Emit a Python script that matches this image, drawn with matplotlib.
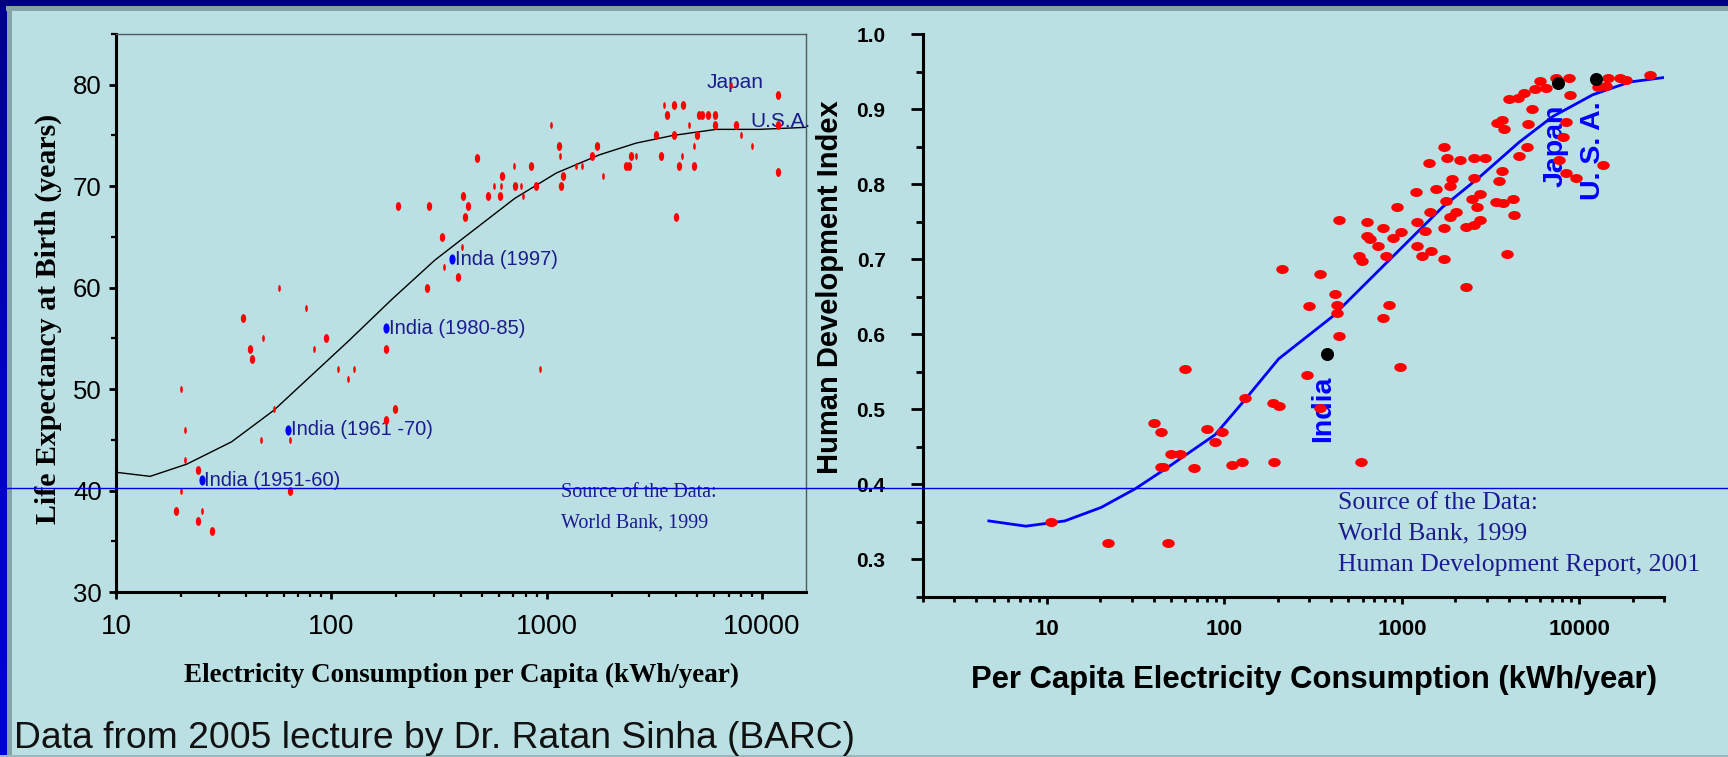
import matplotlib
matplotlib.use("Agg")
import numpy as np
import matplotlib.pyplot as plt
from matplotlib.markers import MarkerStyle
from matplotlib.transforms import Affine2D
from matplotlib.lines import Line2D
from matplotlib.patches import Rectangle
from matplotlib.ticker import MultipleLocator, LogLocator, NullFormatter

# ---------------- data: life expectancy vs electricity (left panel) ----------------
life_x_big = [204, 285, 328, 388, 278, 39, 42, 43, 94, 24, 19, 24, 28, 64, 180, 180, 198,
              473, 409, 430, 419, 533, 605, 618, 713, 846, 892, 1135, 1190, 1161, 1627, 1709,
              2339, 2408, 2460, 3226, 3380, 3634, 3901, 3901, 4103, 4003, 4315, 4845, 4966,
              5076, 5248, 5623, 6040, 6040, 7530, 11900, 11900, 11900]
life_y_big = [68, 68, 65, 61, 60, 57, 54, 53, 55, 42, 38, 37, 36, 40, 54, 47, 48,
              72.8, 69, 68, 67, 69, 69, 71, 70, 72, 70, 74, 71, 70, 73, 74,
              72, 72, 73, 75, 73, 77, 78, 75, 72, 67, 78, 72, 75,
              77, 77, 77, 77, 76, 76, 79, 71.4, 76]
life_x_thin = [57, 76, 48, 83, 107, 127, 120, 20, 21, 21, 20, 25, 54, 47, 64, 929, 334, 406,
               569, 611, 708, 759, 779, 1043, 1148, 1361, 1462, 1817, 2606, 3505, 4268, 4565,
               4812, 7213, 8000, 9000]
life_y_thin = [60, 58, 55, 54, 52, 52, 51, 50, 46, 43, 40, 38, 48, 45, 45, 52, 62, 64,
               70, 70, 72, 70, 69, 76, 73, 72, 72, 71, 73, 78, 73, 76,
               74, 80, 75, 74]
india_x = [25, 63, 180, 364]
india_y = [41, 46, 56, 62.8]
india_labels = ["India (1951-60)", "India (1961 -70)", "India (1980-85)", "Inda (1997)"]
life_fit_x = [10, 14.4, 21.3, 34.4, 54, 121, 190, 302, 394, 711, 1109, 1762, 2606, 3855,
              6120, 9730, 16000]
life_fit_y = [41.8, 41.4, 42.6, 44.8, 47.9, 54.8, 58.8, 62.7, 64.6, 68.8, 71.3, 73.1, 74.25,
              75.0, 75.6, 75.6, 75.8]
life_xticks = [10, 100, 1000, 10000]
life_xticklabels = ["10", "100", "1000", "10000"]
life_yticks = [30, 40, 50, 60, 70, 80]

# ---------------- data: HDI vs electricity (right panel) ----------------
hdi_x = [301, 60, 290, 131, 187, 203, 347, 40, 44, 80, 97, 88, 50, 56, 44, 45, 67, 110, 126,
         189, 10.5, 22, 48, 590, 211, 347, 419, 432, 432, 845, 785, 2290, 3900, 1730, 1290,
         1450, 1220, 817, 592, 573, 736, 638, 660, 893, 984, 785, 638, 444, 942, 1210, 1349,
         1730, 1442, 1205, 1549, 1782, 1862, 2011, 1855, 1928, 1422, 1790, 1730, 2128, 2553,
         2945, 2563, 2290, 2553, 2747, 2477, 2644, 2747, 3383, 3724, 4204, 4297, 3532, 3655,
         4545, 5044, 3414, 3655, 3772, 5117, 5412, 4027, 4486, 4896, 5651, 6000, 6486, 7385,
         8790, 8907, 8414, 8135, 7721, 8414, 9575, 13680, 12700, 14460, 16850, 18380, 14160,
         25000, 444, 972]
hdi_y = [0.638, 0.553, 0.546, 0.515, 0.508, 0.504, 0.501, 0.482, 0.470, 0.474, 0.470, 0.456,
         0.440, 0.440, 0.423, 0.423, 0.422, 0.426, 0.429, 0.429, 0.350, 0.322, 0.322, 0.429,
         0.687, 0.680, 0.653, 0.639, 0.628, 0.639, 0.621, 0.663, 0.707, 0.700, 0.704, 0.711,
         0.718, 0.704, 0.697, 0.704, 0.718, 0.731, 0.727, 0.728, 0.736, 0.742, 0.749, 0.752,
         0.770, 0.749, 0.738, 0.742, 0.763, 0.790, 0.793, 0.777, 0.756, 0.763, 0.797, 0.807,
         0.828, 0.835, 0.849, 0.832, 0.835, 0.835, 0.808, 0.743, 0.745, 0.752, 0.780, 0.770,
         0.787, 0.776, 0.775, 0.780, 0.759, 0.804, 0.818, 0.837, 0.849, 0.881, 0.886, 0.873,
         0.880, 0.900, 0.913, 0.915, 0.921, 0.927, 0.938, 0.928, 0.941, 0.941, 0.919, 0.883,
         0.863, 0.832, 0.815, 0.808, 0.825, 0.930, 0.941, 0.941, 0.939, 0.931, 0.945, 0.597,
         0.556]
hdi_black_x = [378, 7586, 12420]
hdi_black_y = [0.573, 0.935, 0.940]
hdi_names = ["India", "Japan", "U. S. A."]
hdi_name_x = [360, 7310, 11980]
hdi_name_y = [0.501, 0.851, 0.844]
hdi_fit_x = [4.7, 7.6, 12.6, 20.2, 31.5, 48.3, 88.7, 131, 202, 404, 1690, 2729, 4591, 7080,
             11900, 19200, 30000]
hdi_fit_y = [0.351, 0.344, 0.351, 0.369, 0.394, 0.423, 0.466, 0.513, 0.567, 0.623, 0.769,
             0.809, 0.856, 0.890, 0.919, 0.936, 0.942]
hdi_xticks = [10, 100, 1000, 10000]
hdi_xticklabels = ["10", "100", "1000", "10000"]
hdi_yticks = [0.3, 0.4, 0.5, 0.6, 0.7, 0.8, 0.9, 1.0]
hdi_yticklabels = ["0.3", "0.4", "0.5", "0.6", "0.7", "0.8", "0.9", "1.0"]

source_left = ["Source of the Data:", "World Bank, 1999"]
source_right = ["Source of the Data:", "World Bank, 1999", "Human Development Report, 2001"]
caption = "Data from 2005 lecture by Dr. Ratan Sinha (BARC)"

# ---------------- styling ----------------
W, H = 1728, 757
bg = "#BAE0E3"
navy_text = "#1C1C8E"
narrow = ["Liberation Sans Narrow", "Liberation Sans", "DejaVu Sans"]
sans = ["Liberation Sans", "DejaVu Sans"]
serif = ["Liberation Serif", "DejaVu Serif"]


def box(x0, y0, x1, y1):
    # pixel box (origin top-left) -> figure fraction rect
    return [x0 / W, 1 - y1 / H, (x1 - x0) / W, (y1 - y0) / H]


fig = plt.figure(figsize=(W / 100, H / 100), dpi=100, facecolor=bg)

# slide frame
fig.add_artist(Rectangle((0, 1 - 6 / H), 1, 6 / H, transform=fig.transFigure,
                         color="#000080", lw=0, zorder=1))
fig.add_artist(Rectangle((6 / W, 1 - 11 / H), 1, 5 / H, transform=fig.transFigure,
                         color="#84A4A8", lw=0, zorder=1))
fig.add_artist(Rectangle((7 / W, 0), 4.5 / W, 1 - 6 / H, transform=fig.transFigure,
                         color="#84A4A8", lw=0, zorder=1))
fig.add_artist(Rectangle((0, 0), 1, 2 / H, transform=fig.transFigure,
                         color="#9DB8BB", lw=0, zorder=1))
strip = fig.add_axes([0, 0, 7 / W, 1 - 6 / H])
grad = np.linspace(0, 1, 256).reshape(-1, 1)
strip.imshow(grad, aspect="auto", cmap=matplotlib.colors.LinearSegmentedColormap.from_list(
    "edge", ["#0000DC", "#0000C8", "#000090"]), origin="lower")
strip.set_axis_off()

# ---------------- left panel ----------------
ax1 = fig.add_axes(box(116, 34, 806, 592))
ax1.set_facecolor("none")
ax1.set_xscale("log")

tall = MarkerStyle("o", transform=Affine2D().scale(0.6, 1.0))
thin = MarkerStyle("o", transform=Affine2D().scale(0.38, 1.0))
ax1.plot(life_fit_x, life_fit_y, color="black", lw=1.0, zorder=2)
ax1.plot(life_x_big, life_y_big, ls="none", marker=tall, ms=6.4, color="red", mec="none", zorder=4)
ax1.plot(life_x_thin, life_y_thin, ls="none", marker=thin, ms=5.0, color="red", mec="none", zorder=4)
ax1.plot(india_x, india_y, ls="none", marker=tall, ms=7.4, color="#0000FF", mec="none", zorder=4)
for x, y, t in zip(india_x, india_y, india_labels):
    ax1.annotate(t, (x, y), xytext=(2, 0), textcoords="offset points", ha="left", va="center",
                 fontsize=14.5, family=narrow, color=navy_text, zorder=3)
ax1.text(5510, 80.2, "Japan", ha="left", va="center", fontsize=15, family=narrow,
         color=navy_text, zorder=3)
ax1.text(8810, 76.35, "U.S.A.", ha="left", va="center", fontsize=15, family=narrow,
         color=navy_text, zorder=3)
for i, line in enumerate(source_left):
    ax1.text(1170, 39.8 - 3.0 * i, line, ha="left", va="center", fontsize=14.5, family=serif,
             color=navy_text, zorder=3)

ax1.set_xlim(10, 16000)
ax1.set_ylim(30, 85)
ax1.set_xticks(life_xticks, life_xticklabels, fontsize=20, family=narrow)
ax1.set_yticks(life_yticks, [str(v) for v in life_yticks], fontsize=18.5, family=narrow)
ax1.xaxis.set_minor_locator(LogLocator(base=10, subs=np.arange(2, 10), numticks=50))
ax1.xaxis.set_minor_formatter(NullFormatter())
ax1.yaxis.set_minor_locator(MultipleLocator(5))
ax1.tick_params(which="major", direction="out", length=4.8, width=2, color="black")
ax1.tick_params(which="minor", direction="out", length=3.6, width=1.6, color="black")
ax1.tick_params(axis="x", which="major", pad=11)
ax1.tick_params(axis="y", which="major", pad=5.5)
for s in ["left", "bottom"]:
    ax1.spines[s].set_linewidth(2.2)
    ax1.spines[s].set_color("black")
for s in ["top", "right"]:
    ax1.spines[s].set_linewidth(1.0)
    ax1.spines[s].set_color("#4E5A5C")

ax1.set_xlabel("Electricity Consumption per Capita (kWh/year)", fontsize=19.5,
               family=serif, fontweight="bold")
ax1.xaxis.set_label_coords(0.5, (592 - 675) / 558)
ax1.xaxis.label.set_va("center")
ax1.set_ylabel("Life Expectancy at Birth (years)", fontsize=21.5, family=serif, fontweight="bold")
ax1.yaxis.set_label_coords((48 - 116) / 690, 0.49)
ax1.yaxis.label.set_va("center")

# ---------------- right panel ----------------
ax2 = fig.add_axes(box(923, 34, 1664, 596.7))
ax2.set_facecolor("none")
ax2.set_xscale("log")

wide = MarkerStyle("o", transform=Affine2D().scale(1.0, 0.72))
ax2.plot(hdi_fit_x, hdi_fit_y, color="#0000FF", lw=2.0, zorder=2)
ax2.plot(hdi_x, hdi_y, ls="none", marker=wide, ms=9.0, color="red", mec="none", zorder=4)
ax2.plot(hdi_black_x, hdi_black_y, ls="none", marker="o", ms=9.4, color="black", mec="none",
         zorder=5)
for x, y, t in zip(hdi_name_x, hdi_name_y, hdi_names):
    ax2.text(x, y, t, rotation=90, ha="center", va="center", fontsize=20.5, family=sans,
             fontweight="bold", color="#0000FF", zorder=3)
for i, line in enumerate(source_right):
    ax2.text(434, 0.3745 - 0.0408 * i, line, ha="left", va="center", fontsize=18.5,
             family=serif, color=navy_text, zorder=3)

ax2.set_xlim(2, 30000)
ax2.set_ylim(0.25, 1.0)
ax2.set_xticks(hdi_xticks, hdi_xticklabels, fontsize=16, family=sans, fontweight="bold")
ax2.set_yticks(hdi_yticks, hdi_yticklabels, fontsize=15, family=sans, fontweight="bold")
ax2.xaxis.set_minor_locator(LogLocator(base=10, subs=np.arange(2, 10), numticks=50))
ax2.xaxis.set_minor_formatter(NullFormatter())
ax2.yaxis.set_minor_locator(MultipleLocator(0.05))
ax2.tick_params(which="both", direction="out", width=2, color="black")
ax2.tick_params(axis="x", which="major", length=4.8, pad=11)
ax2.tick_params(axis="x", which="minor", length=3.4)
ax2.tick_params(axis="y", which="major", length=9, pad=18)
ax2.tick_params(axis="y", which="minor", length=5)
for s in ["left", "bottom"]:
    ax2.spines[s].set_linewidth(2.2)
    ax2.spines[s].set_color("black")
for s in ["top", "right"]:
    ax2.spines[s].set_visible(False)

ax2.set_xlabel("Per Capita Electricity Consumption (kWh/year)", fontsize=22.3, family=sans,
               fontweight="bold")
ax2.xaxis.set_label_coords((1313.8 - 923) / 741, (596.7 - 680) / 562.7)
ax2.xaxis.label.set_va("center")
ax2.set_ylabel("Human Development Index", fontsize=21, family=sans, fontweight="bold")
ax2.yaxis.set_label_coords((829.6 - 923) / 741, (596.7 - 287) / 562.7)
ax2.yaxis.label.set_va("center")

# stray slide rule across the figure
fig.add_artist(Line2D([7 / W, 1], [1 - 488.3 / H, 1 - 488.3 / H], transform=fig.transFigure,
                      color="#0000E6", lw=1.0, zorder=10))

fig.text(14 / W, 1 - 739 / H, caption, ha="left", va="center", fontsize=26.8, family=sans,
         color="#111111")

fig.savefig("out.png", dpi=100, facecolor=bg)
